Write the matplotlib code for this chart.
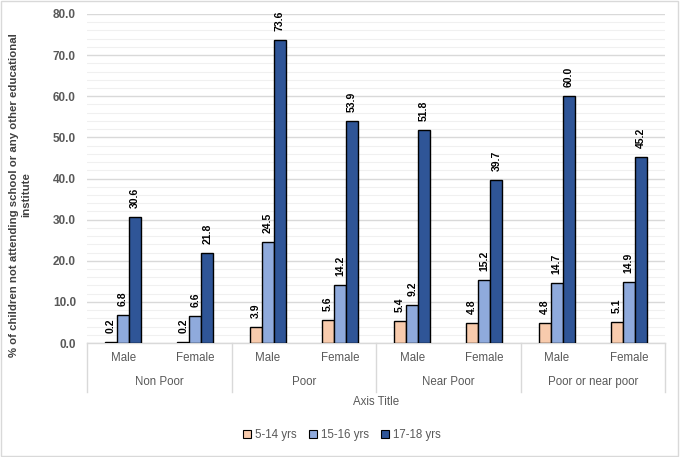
import matplotlib
matplotlib.use("Agg")
import matplotlib.pyplot as plt
import numpy as np
from matplotlib.patches import Rectangle
from matplotlib.lines import Line2D

groups = ["Non Poor", "Poor", "Near Poor", "Poor or near poor"]
sexes = ["Male", "Female"]
series = ["5-14 yrs", "15-16 yrs", "17-18 yrs"]
v_5_14 = [0.2, 0.2, 3.9, 5.6, 5.4, 4.8, 4.8, 5.1]
v_15_16 = [6.8, 6.6, 24.5, 14.2, 9.2, 15.2, 14.7, 14.9]
v_17_18 = [30.6, 21.8, 73.6, 53.9, 51.8, 39.7, 60.0, 45.2]
colors = ["#F8CBAD", "#8FAADC", "#2F5597"]
yticks = [0, 10, 20, 30, 40, 50, 60, 70, 80]

plt.rcParams['font.family'] = ['Liberation Sans', 'DejaVu Sans']

fig = plt.figure(figsize=(6.8, 4.57), dpi=100)
W, H = 680, 457
ax = fig.add_axes([87/W, 1-343/H, (665-87)/W, (343-14)/H])

n = len(v_5_14)
x = np.arange(n)
bw = 1/6
vals = [v_5_14, v_15_16, v_17_18]
for i, (v, c) in enumerate(zip(vals, colors)):
    pos = x + (i-1)*bw
    bars = ax.bar(pos, v, width=bw, color=c, edgecolor="black", linewidth=1.0, zorder=3, label=series[i])
    for p, val in zip(pos, v):
        ax.annotate(f"{val:.1f}", (p, val), xytext=(0, 6.5), textcoords="offset points",
                    rotation=90, ha="center", va="bottom", fontsize=7.5, fontweight="bold",
                    color="black", zorder=4)

ax.set_xlim(-0.5, n-0.5)
ax.set_ylim(0, 80)
ax.set_yticks(yticks)
ax.set_yticklabels([f"{t:.1f}" for t in yticks], fontsize=8.5, fontweight="bold", color="#595959")
ax.set_yticks(np.arange(0, 81, 2), minor=True)
ax.tick_params(axis="y", which="both", length=0, pad=8)
ax.grid(axis="y", which="major", color="#D9D9D9", linewidth=1.0, zorder=0)
ax.grid(axis="y", which="minor", color="#F0F0F0", linewidth=0.8, zorder=0)
ax.set_xticks([])
for s in ["top", "right", "left"]:
    ax.spines[s].set_visible(False)
ax.spines["bottom"].set_color("#D9D9D9")
ax.spines["bottom"].set_linewidth(1.0)

trans = ax.get_xaxis_transform()
# hierarchical category axis
for k in range(len(groups)+1):
    xb = -0.5 + 2*k
    ax.add_line(Line2D([xb, xb], [0, -49/329], transform=trans, color="#D9D9D9",
                       linewidth=1.0, clip_on=False))
for i in range(n):
    ax.text(i, -15/329, sexes[i % 2], transform=trans, ha="center", va="center",
            fontsize=8.3, color="#595959")
for g, name in enumerate(groups):
    ax.text(2*g+0.5, -39/329, name, transform=trans, ha="center", va="center",
            fontsize=8.3, color="#595959")
ax.text(0.5, -59/329, "Axis Title", transform=ax.transAxes, ha="center", va="center",
        fontsize=8.3, color="#595959")

fig.text(20/W, 1-195/H, "% of children not attending school or any other educational\ninstitute",
         rotation=90, ha="center", va="center", fontsize=8.2, fontweight="bold",
         color="#404040", linespacing=1.25, family=['Liberation Sans Narrow', 'Liberation Sans', 'DejaVu Sans'])

handles = [Rectangle((0, 0), 1, 1, facecolor=c, edgecolor="black", linewidth=0.8) for c in colors]
leg = fig.legend(handles, series, loc="center", bbox_to_anchor=(342/W, 1-435/H), ncol=3,
                 frameon=False, fontsize=8.3, handlelength=0.7, handleheight=0.7,
                 handletextpad=0.3, columnspacing=1.1)
for t in leg.get_texts():
    t.set_color("#595959")

fig.add_artist(Rectangle((1/W, 1/H), 677/W, 455/H, transform=fig.transFigure,
                         fill=False, edgecolor="#D9D9D9", linewidth=1.0))

fig.savefig("out.png", dpi=100)
